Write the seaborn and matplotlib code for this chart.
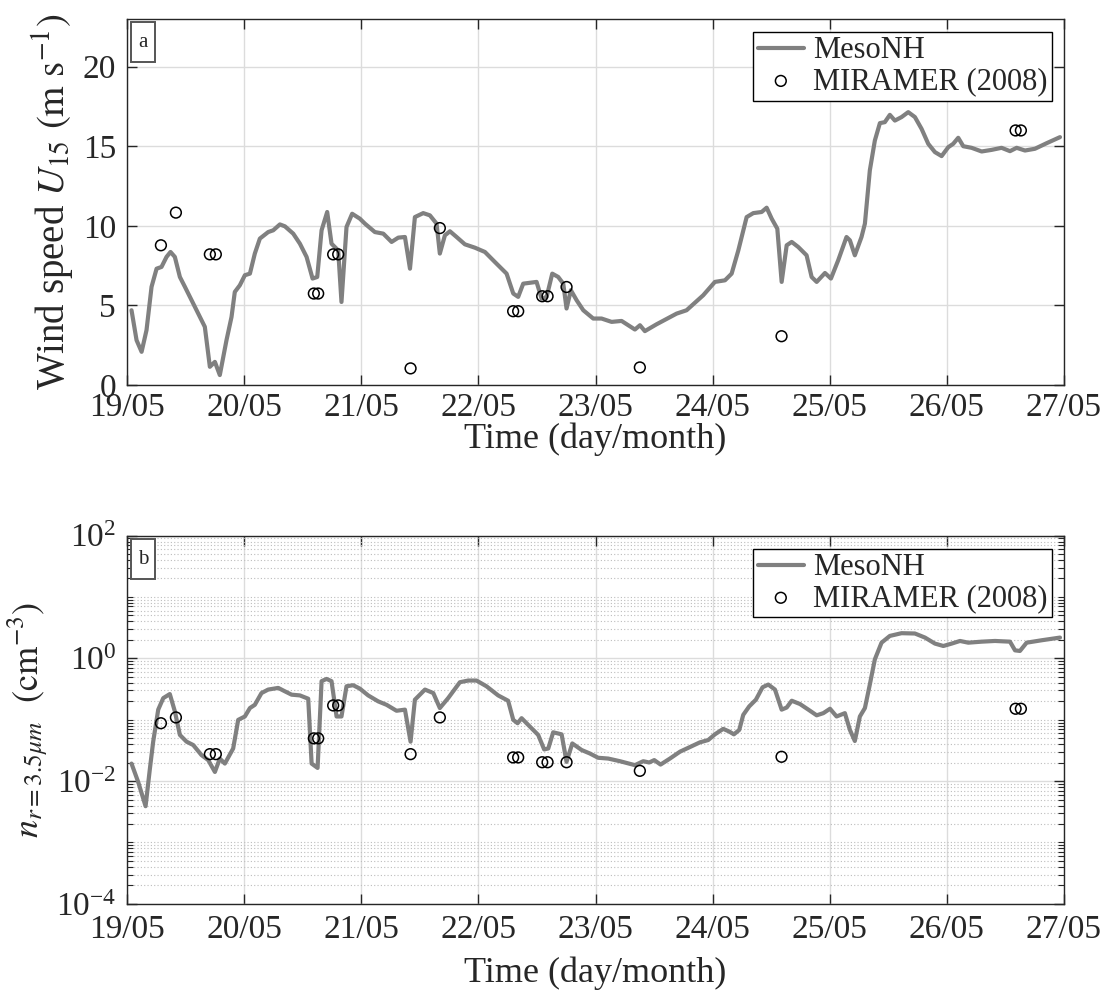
import numpy as np
import matplotlib
matplotlib.use("Agg")
import matplotlib.pyplot as plt
from matplotlib.ticker import FixedLocator, LogLocator, NullFormatter, LogFormatterMathtext
from matplotlib.patches import Rectangle
import seaborn as sns

# ---- data: time in days since 19/05 00:00 ----
day_labels = ["19/05", "20/05", "21/05", "22/05", "23/05", "24/05", "25/05", "26/05", "27/05"]

# MesoNH 15 m wind speed (m/s)
wind_t = [0.037, 0.080, 0.123, 0.165, 0.208, 0.251, 0.293, 0.336, 0.370, 0.407,
          0.450, 0.493, 0.550, 0.607, 0.663, 0.706, 0.749, 0.791, 0.848, 0.891,
          0.919, 0.962, 1.005, 1.048, 1.090, 1.133, 1.204, 1.247, 1.304, 1.347,
          1.418, 1.475, 1.532, 1.583, 1.623, 1.660, 1.708, 1.745, 1.802, 1.830,
          1.873, 1.921, 1.987, 2.030, 2.115, 2.187, 2.258, 2.315, 2.372, 2.415,
          2.457, 2.528, 2.585, 2.642, 2.670, 2.713, 2.756, 2.813, 2.884, 2.969,
          3.055, 3.140, 3.240, 3.297, 3.339, 3.382, 3.496, 3.539, 3.582, 3.630,
          3.681, 3.724, 3.752, 3.789, 3.838, 3.895, 3.980, 4.051, 4.137, 4.222,
          4.336, 4.379, 4.421, 4.521, 4.692, 4.777, 4.919, 5.019, 5.105, 5.162,
          5.219, 5.290, 5.347, 5.418, 5.461, 5.504, 5.552, 5.589, 5.632, 5.675,
          5.731, 5.802, 5.845, 5.888, 5.959, 6.010, 6.072, 6.143, 6.172, 6.214,
          6.271, 6.300, 6.342, 6.385, 6.428, 6.470, 6.513, 6.556, 6.613, 6.670,
          6.727, 6.784, 6.841, 6.898, 6.955, 7.012, 7.054, 7.097, 7.140, 7.211,
          7.297, 7.382, 7.467, 7.539, 7.596, 7.667, 7.752, 7.852, 7.966]
wind_v = [4.70, 2.82, 2.09, 3.45, 6.17, 7.31, 7.42, 8.05, 8.36, 8.05,
          6.79, 6.17, 5.33, 4.49, 3.66, 1.15, 1.46, 0.63, 2.82, 4.28,
          5.85, 6.27, 6.90, 7.00, 8.26, 9.20, 9.61, 9.72, 10.09, 9.97,
          9.51, 8.88, 8.05, 6.69, 6.79, 9.72, 10.87, 8.88, 8.46, 5.22,
          9.93, 10.76, 10.45, 10.14, 9.61, 9.51, 8.99, 9.26, 9.30, 7.31,
          10.55, 10.80, 10.66, 10.14, 8.26, 9.40, 9.66, 9.30, 8.84, 8.63,
          8.36, 7.73, 7.00, 5.75, 5.54, 6.37, 6.48, 5.43, 5.54, 7.00,
          6.79, 6.37, 4.81, 5.96, 5.33, 4.70, 4.18, 4.18, 3.97, 4.03,
          3.49, 3.76, 3.39, 3.82, 4.49, 4.70, 5.64, 6.48, 6.58, 7.00,
          8.46, 10.55, 10.80, 10.87, 11.14, 10.45, 9.82, 6.48, 8.78, 8.99,
          8.67, 8.15, 6.79, 6.48, 7.04, 6.69, 7.84, 9.30, 9.09, 8.15,
          9.30, 10.14, 13.48, 15.36, 16.45, 16.51, 16.97, 16.61, 16.83, 17.14,
          16.83, 16.09, 15.15, 14.63, 14.38, 14.94, 15.15, 15.53, 15.00, 14.90,
          14.67, 14.77, 14.90, 14.69, 14.90, 14.73, 14.84, 15.19, 15.57]

# MesoNH number concentration of r = 3.5 um particles (cm^-3)
conc_t = [0.037, 0.094, 0.157, 0.194, 0.222, 0.265, 0.308, 0.364, 0.407, 0.450,
          0.507, 0.564, 0.635, 0.692, 0.749, 0.791, 0.834, 0.905, 0.948, 1.005,
          1.048, 1.090, 1.147, 1.204, 1.290, 1.347, 1.404, 1.475, 1.546, 1.575,
          1.626, 1.660, 1.703, 1.745, 1.788, 1.830, 1.873, 1.930, 1.987, 2.058,
          2.144, 2.215, 2.300, 2.372, 2.420, 2.457, 2.543, 2.614, 2.670, 2.741,
          2.841, 2.912, 2.983, 3.068, 3.168, 3.253, 3.297, 3.334, 3.368, 3.439,
          3.510, 3.561, 3.596, 3.638, 3.710, 3.752, 3.801, 3.881, 3.951, 4.022,
          4.108, 4.208, 4.336, 4.407, 4.458, 4.501, 4.555, 4.635, 4.720, 4.792,
          4.891, 4.962, 5.019, 5.090, 5.142, 5.181, 5.227, 5.261, 5.312, 5.369,
          5.426, 5.475, 5.532, 5.589, 5.632, 5.675, 5.746, 5.817, 5.888, 5.945,
          6.002, 6.058, 6.129, 6.172, 6.214, 6.257, 6.300, 6.342, 6.385, 6.442,
          6.513, 6.613, 6.727, 6.813, 6.898, 6.970, 7.041, 7.112, 7.183, 7.297,
          7.411, 7.539, 7.582, 7.624, 7.681, 7.809, 7.966]
conc_v = [0.0193, 0.00966, 0.0039, 0.016, 0.0439, 0.146, 0.225, 0.262, 0.137, 0.0565,
          0.0439, 0.0387, 0.0265, 0.022, 0.0141, 0.0233, 0.0193, 0.034, 0.0995, 0.113,
          0.155, 0.175, 0.272, 0.31, 0.33, 0.29, 0.256, 0.249, 0.22, 0.0193,
          0.0164, 0.425, 0.462, 0.425, 0.113, 0.113, 0.351, 0.365, 0.321, 0.249,
          0.199, 0.175, 0.14, 0.146, 0.0439, 0.212, 0.31, 0.272, 0.155, 0.225,
          0.408, 0.435, 0.435, 0.351, 0.249, 0.204, 0.0995, 0.0877, 0.106, 0.0773,
          0.0565, 0.0328, 0.034, 0.0624, 0.0578, 0.0206, 0.0411, 0.0321, 0.0282, 0.024,
          0.0233, 0.0211, 0.0182, 0.0211, 0.0201, 0.022, 0.0186, 0.0233, 0.0301, 0.0349,
          0.0428, 0.0467, 0.0578, 0.071, 0.0641, 0.0578, 0.0682, 0.12, 0.165, 0.212,
          0.338, 0.374, 0.31, 0.146, 0.158, 0.204, 0.18, 0.146, 0.118, 0.128,
          0.151, 0.113, 0.128, 0.0682, 0.045, 0.113, 0.155, 0.374, 0.964, 1.80,
          2.32, 2.57, 2.54, 2.18, 1.74, 1.59, 1.74, 1.92, 1.80, 1.87,
          1.92, 1.87, 1.35, 1.32, 1.80, 1.97, 2.18]

# MIRAMER (2008) measurements
obs_t = [0.288, 0.416, 0.706, 0.757, 1.594, 1.631, 1.759, 1.802, 2.420, 2.670,
         3.296, 3.339, 3.544, 3.590, 3.752, 4.378, 5.588, 7.587, 7.632]
obs_wind = [8.78, 10.83, 8.21, 8.21, 5.75, 5.75, 8.21, 8.21, 1.05, 9.86,
            4.64, 4.64, 5.58, 5.58, 6.16, 1.11, 3.07, 15.99, 15.99]
obs_conc = [0.0877, 0.109, 0.0275, 0.0275, 0.0497, 0.0497, 0.171, 0.171, 0.0275, 0.109,
            0.0243, 0.0243, 0.0203, 0.0203, 0.0203, 0.0147, 0.0249, 0.151, 0.151]

# ---- style ----
sns.set_theme(style="ticks")
plt.rcParams["font.family"] = ["Liberation Serif", "DejaVu Serif"]
plt.rcParams["mathtext.fontset"] = "stix"
plt.rcParams["axes.unicode_minus"] = True

LINE_C = "#808080"
TXT_C = "#262626"
GRID_C = "#dcdcdc"
TICK_FS = 24

fig = plt.figure(figsize=(11.06, 9.90), dpi=100)
ax1 = fig.add_axes([0.115, 0.611, 0.847, 0.370])
ax2 = fig.add_axes([0.115, 0.087, 0.847, 0.372])


def draw_panel(ax, t, v, ov):
    sns.lineplot(x=t, y=v, ax=ax, color=LINE_C, linewidth=3.0, label="MesoNH",
                 sort=False, zorder=3)
    sns.scatterplot(x=obs_t, y=ov, ax=ax, marker="o", s=60, label="MIRAMER (2008)",
                    zorder=4)
    coll = ax.collections[-1]
    coll.set_facecolor("none")
    coll.set_edgecolor("black")
    coll.set_linewidth(1.1)


def style_axes(ax, letter, xpad, xlabelpad):
    ax.set_xlim(0, 8)
    ax.xaxis.set_major_locator(FixedLocator(range(len(day_labels))))
    ax.set_xticklabels(day_labels)
    ax.set_xlabel("Time (day/month)", fontsize=26, color=TXT_C, labelpad=xlabelpad)
    ax.tick_params(axis="both", which="major", direction="in", length=7, width=1,
                   top=True, right=True, labelsize=TICK_FS, colors=TXT_C)
    ax.tick_params(axis="x", which="major", pad=xpad)
    ax.tick_params(axis="y", which="major", pad=8)
    ax.tick_params(axis="both", which="minor", direction="in", length=4, width=0.8,
                   top=True, right=True, colors=TXT_C)
    ax.grid(True, which="major", color=GRID_C, linewidth=1.0, linestyle="-", zorder=0)
    for s in ax.spines.values():
        s.set_color(TXT_C)
        s.set_linewidth(1.0)
    ax.set_axisbelow(True)
    # boxed panel letter
    ax.add_patch(Rectangle((0.004, 0.882), 0.026, 0.108, transform=ax.transAxes,
                           facecolor="white", edgecolor="#555555", linewidth=1.4, zorder=5))
    ax.text(0.017, 0.936, letter, transform=ax.transAxes, ha="center", va="center",
            fontsize=15, color=TXT_C, zorder=6)
    leg = ax.legend(loc="upper right", bbox_to_anchor=(1 - 12 / 937, 1 - 13 / 366),
                    borderaxespad=0, fontsize=22, frameon=True, fancybox=False,
                    handlelength=1.5, handletextpad=0.3, borderpad=0.15,
                    labelspacing=0.05)
    leg.get_frame().set_edgecolor("black")
    leg.get_frame().set_linewidth(1.0)
    leg.get_frame().set_alpha(1.0)


# Panel a: wind speed
draw_panel(ax1, wind_t, wind_v, obs_wind)
ax1.set_ylim(0, 23)
ax1.yaxis.set_major_locator(FixedLocator([0, 5, 10, 15, 20]))
ax1.set_ylabel(r"Wind speed $U_{15}$ $(\mathrm{m\ s^{-1}})$", fontsize=28, color=TXT_C,
               labelpad=4)
style_axes(ax1, "a", xpad=5, xlabelpad=0)

# Panel b: number concentration, log scale
draw_panel(ax2, conc_t, conc_v, obs_conc)
ax2.set_yscale("log")
ax2.set_ylim(1e-4, 1e2)
ax2.yaxis.set_major_locator(FixedLocator([1e-4, 1e-2, 1e0, 1e2]))
ax2.yaxis.set_major_formatter(LogFormatterMathtext())
ax2.yaxis.set_minor_locator(LogLocator(base=10, subs=np.arange(1, 10), numticks=30))
ax2.yaxis.set_minor_formatter(NullFormatter())
ax2.set_ylabel(r"$n_{r=3.5\mu m}$  $(\mathrm{cm^{-3}})$", fontsize=26, color=TXT_C,
               labelpad=4)
style_axes(ax2, "b", xpad=8, xlabelpad=8)
ax2.grid(True, which="minor", axis="y", color="#bdbdbd", linewidth=0.8,
         linestyle=(0, (1, 2)), zorder=0)

fig.savefig("out.png", dpi=100)
